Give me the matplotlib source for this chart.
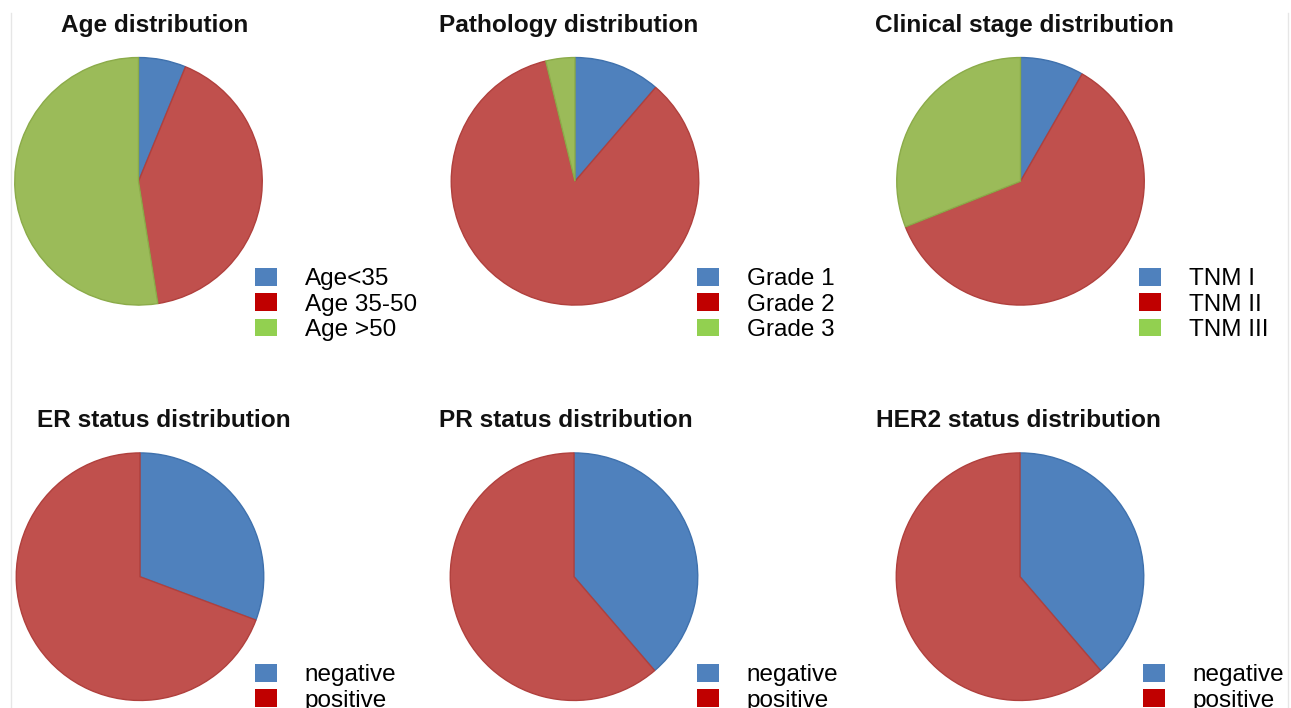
import matplotlib
matplotlib.use("Agg")
import matplotlib.pyplot as plt
from matplotlib.patches import Patch
from matplotlib.lines import Line2D

plt.rcParams["font.family"] = ["Liberation Sans", "DejaVu Sans"]

# ── data (percent of patients) ─────────────────────────────
age_labels = ["Age<35", "Age 35-50", "Age >50"]
age_values = [6.2, 41.3, 52.5]

path_labels = ["Grade 1", "Grade 2", "Grade 3"]
path_values = [11.3, 84.9, 3.8]

stage_labels = ["TNM I", "TNM II", "TNM III"]
stage_values = [8.3, 60.7, 31.0]

status_labels = ["negative", "positive"]
er_values = [30.7, 69.3]
pr_values = [38.7, 61.3]
her2_values = [38.7, 61.3]

titles = ["Age distribution", "Pathology distribution", "Clinical stage distribution",
          "ER status distribution", "PR status distribution", "HER2 status distribution"]

# ── colours ────────────────────────────────────────────────
PIE_FACE = ["#4F81BD", "#C0504D", "#9BBB59"]
PIE_EDGE = ["#3F71AD", "#B0403D", "#8BAB49"]
LEG_FACE = ["#4F81BD", "#C00000", "#92D050"]

W, H = 1291, 708
fig = plt.figure(figsize=(W / 100, H / 100), dpi=100)

# panel layout in pixels: pie centre x, centre y, title x, title baseline y, legend x, legend top y
R = 125
panels = [
    (age_values,   age_labels,    138.5, 181.3,  61,  32, 255, 268),
    (path_values,  path_labels,   575.0, 181.3, 439,  32, 697, 268),
    (stage_values, stage_labels, 1020.5, 181.3, 875,  32, 1139, 268),
    (er_values,    status_labels, 140.0, 576.7,  37, 427, 255, 664),
    (pr_values,    status_labels, 574.0, 576.7, 439, 427, 697, 664),
    (her2_values,  status_labels,1020.0, 576.7, 876, 427, 1143, 664),
]

for (vals, labels, cx, cy, tx, ty, lx, ly), title in zip(panels, titles):
    ax = fig.add_axes([(cx - R) / W, 1 - (cy + R) / H, 2 * R / W, 2 * R / H])
    n = len(vals)
    wedges, _ = ax.pie(vals, colors=PIE_FACE[:n], startangle=90, counterclock=False,
                       radius=1, wedgeprops=dict(linewidth=1.0))
    for w, ec in zip(wedges, PIE_EDGE):
        w.set_edgecolor(ec)
    ax.set_xlim(-1.01, 1.01)
    ax.set_ylim(-1.01, 1.01)
    ax.set_aspect("auto")
    ax.axis("off")

    fig.text(tx / W, 1 - ty / H, title, fontsize=17.6, fontweight="bold",
             ha="left", va="baseline", color="#111111")

    handles = [Patch(facecolor=LEG_FACE[i], edgecolor="none") for i in range(n)]
    fig.legend(handles, labels, loc="upper left", bbox_to_anchor=(lx / W, 1 - ly / H),
               frameon=False, fontsize=17.5, borderpad=0, borderaxespad=0,
               handlelength=0.9, handleheight=0.75, handletextpad=1.15,
               labelspacing=0.12)

# faint frame lines at the sides
fig.add_artist(Line2D([11 / W, 11 / W], [0, 1 - 13 / H], color="#E6E6E6", lw=1))
fig.add_artist(Line2D([1288 / W, 1288 / W], [0, 1 - 13 / H], color="#E6E6E6", lw=1))

plt.savefig("out.png", dpi=100)
